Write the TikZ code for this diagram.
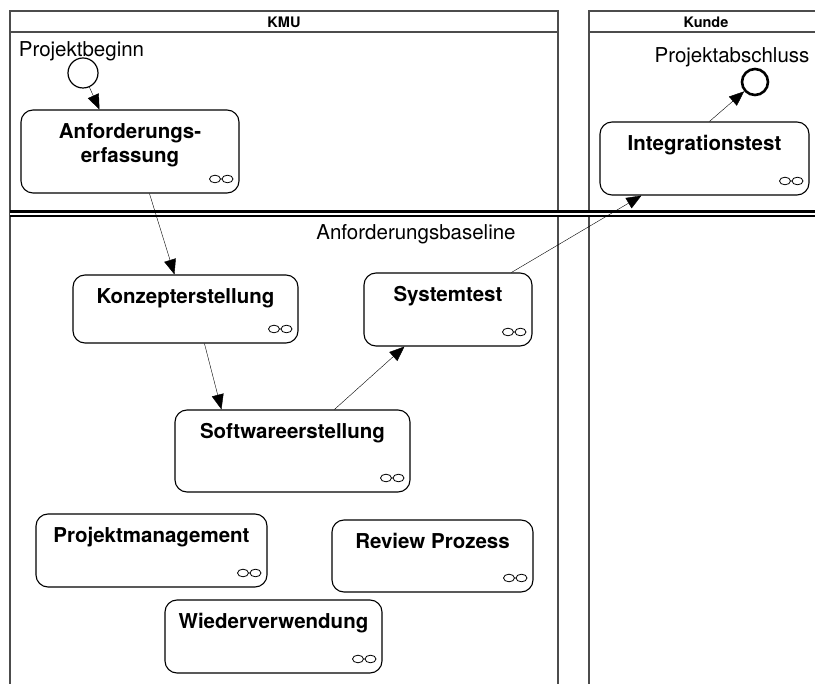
\documentclass[tikz,border=0pt]{standalone}
\usepackage{fontspec}
\setmainfont{TeX Gyre Heros}
\usetikzlibrary{arrows.meta}
\tikzset{->,>={Triangle[length=15pt,width=12pt]},line width=1pt,
  lane/.style={-,draw=black!70,line width=1.4pt},
  lanehead/.style={font=\bfseries\fontsize{14.5}{17}\selectfont,inner sep=0pt},
  plain/.style={font=\fontsize{20.5}{24}\selectfont,inner sep=0pt},
  title/.style={anchor=north,yshift=-13.5pt,inner sep=0pt,align=center,
    font=\bfseries\fontsize{20.5}{24}\selectfont},
  activity/.style={draw,-,fill=white,line width=1.1pt,rounded corners=12pt,
    path picture={\draw[line width=0.8pt]
      ([shift={(-24pt,14pt)}]path picture bounding box.south east)
      ellipse[x radius=5.5pt,y radius=3.8pt] ++(5.5pt,0pt) -- ++(1.5pt,0pt)
      ++(5.5pt,0pt) ellipse[x radius=5.5pt,y radius=3.8pt];}},
  initial/.style={draw,-,circle,minimum size=30pt,inner sep=0pt,line width=1.2pt},
  final/.style={draw,-,circle,minimum size=26pt,inner sep=0pt,line width=2.6pt}}

\begin{document}
\begin{tikzpicture}[x=1pt,y=-1pt]
  \clip (0,0) rectangle (815,684);
  \fill[white] (0,0) rectangle (815,684);

  % swimlanes
  \draw[lane] (10,11) rectangle (558,700) (10,32) -- (558,32);
  \draw[lane] (589,11) rectangle (825,700) (589,32) -- (825,32);
  \node[lanehead] (kmu) at (284,22) {KMU};
  \node[lanehead] (kunde) at (706,22) {Kunde};

  % baseline
  \draw[-,line width=2.5pt,double,double distance=2pt] (10,214) -- (825,214);
  \node[plain] (basetext) at (416,234) {Anforderungsbaseline};

  % start and end
  \node[initial] (start) at (83,73) {};
  \node[plain] (startlabel) at (81.5,51) {Projektbeginn};
  \node[final] (end) at (755,82) {};
  \node[plain] (endlabel) at (732,57) {Projektabschluss};

  % activities
  \node[activity,minimum width=218pt,minimum height=83pt,
    label={[title]north:{Anforderungs-\\erfassung}}] (anf) at (130,151.5) {};
  \node[activity,minimum width=225pt,minimum height=68pt,
    label={[title]north:Konzepterstellung}] (kon) at (185.5,309) {};
  \node[activity,minimum width=168pt,minimum height=73pt,
    label={[title]north:Systemtest}] (sys) at (448,309.5) {};
  \node[activity,minimum width=235pt,minimum height=82pt,
    label={[title]north:Softwareerstellung}] (sw) at (292.5,451) {};
  \node[activity,minimum width=231pt,minimum height=73pt,
    label={[title]north:Projektmanagement}] (pm) at (151.5,550.5) {};
  \node[activity,minimum width=201pt,minimum height=72pt,
    label={[title]north:Review Prozess}] (rev) at (432.5,556) {};
  \node[activity,minimum width=217pt,minimum height=73pt,
    label={[title]north:Wiederverwendung}] (wie) at (273.5,636.5) {};
  \node[activity,minimum width=209pt,minimum height=73pt,
    label={[title]north:Integrationstest}] (int) at (704.5,158.5) {};

  \path
  (start) edge ([xshift=79pt]anf.north west)
  ([xshift=129pt]anf.south west) edge ([xshift=102pt]kon.north west)
  ([xshift=132pt]kon.south west) edge ([xshift=47pt]sw.north west)
  ([xshift=160pt]sw.north west) edge ([xshift=41pt]sys.south west)
  ([xshift=148pt]sys.north west) edge ([xshift=42pt]int.south west)
  ([xshift=110pt]int.north west) edge (end)
  ;
\end{tikzpicture}
\end{document}
